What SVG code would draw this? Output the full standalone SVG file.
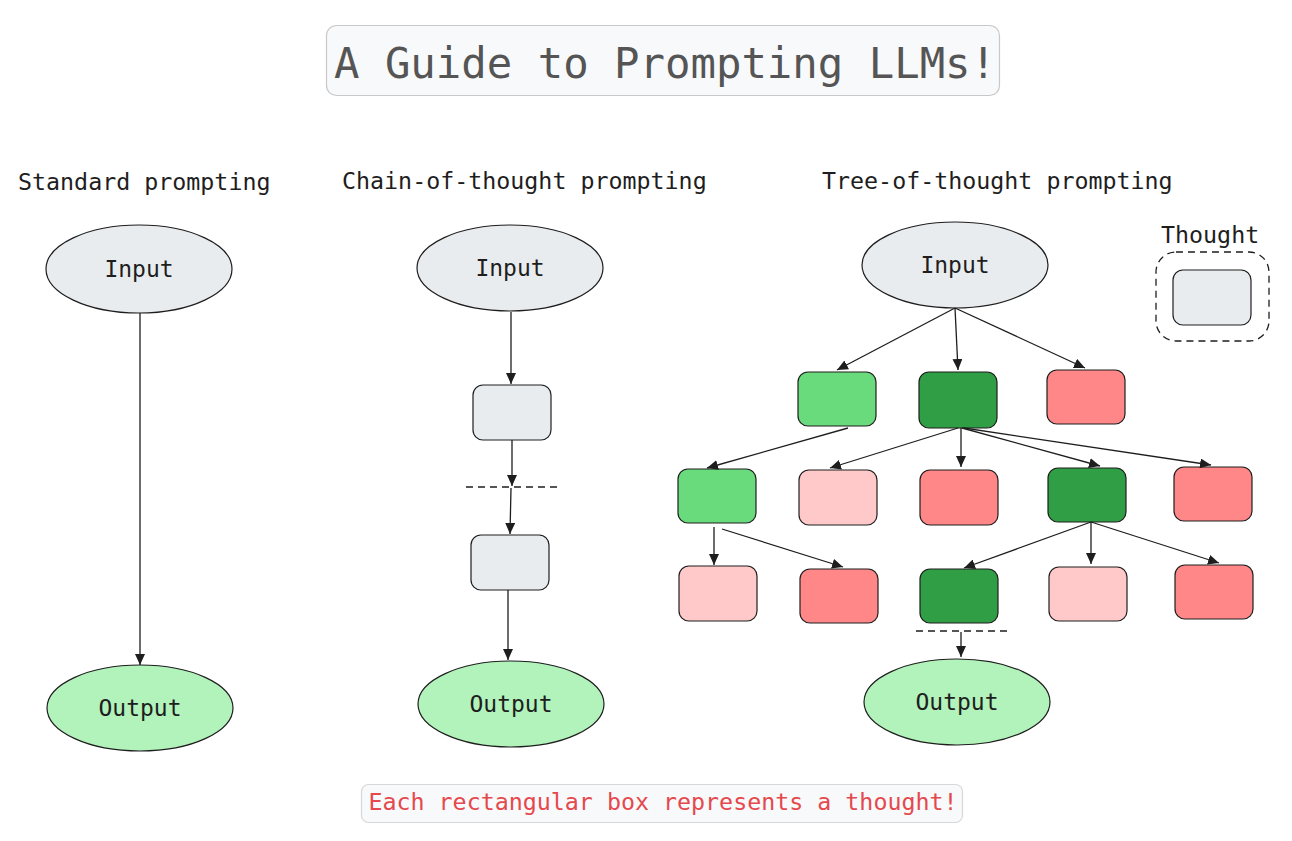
<svg xmlns="http://www.w3.org/2000/svg" width="1292" height="841" viewBox="0 0 1292 841">
<style>
  text { font-family: "DejaVu Sans Mono", "Liberation Mono", monospace; fill: #1e1e1e; }
  .hdr { font-size: 23.3px; }
  .lbl { font-size: 23px; text-anchor: middle; }
  .ell { stroke: #1e1e1e; stroke-width: 1.2; }
  .box { stroke: #1e1e1e; stroke-width: 1.2; }
  .gray { fill: #e9ecef; }
  .out { fill: #b2f2bb; }
  .lg { fill: #69db7c; }
  .dg { fill: #2f9e44; }
  .rd { fill: #ff8787; }
  .pk { fill: #ffc9c9; }
  .con line { stroke: #1e1e1e; stroke-width: 1.3; marker-end: url(#ah); }
  .dash { stroke: #1e1e1e; stroke-width: 1.3; stroke-dasharray: 7 5; fill: none; }
</style>
<defs>
  <marker id="ah" markerUnits="userSpaceOnUse" markerWidth="12" markerHeight="10" refX="11" refY="5" orient="auto">
    <path d="M0,0 L11,5 L0,10 Z" fill="#1e1e1e"/>
  </marker>
</defs>
<rect width="1292" height="841" fill="#ffffff"/>

<g id="title">
  <rect x="326.5" y="25.5" width="673" height="70" rx="10" fill="#f8f9fa" stroke="#c8c8c8" stroke-width="1.2"/>
  <text x="665" y="78" font-size="42.3" text-anchor="middle" style="fill:#555555">A Guide to Prompting LLMs!</text>
</g>

<g id="headers">
  <text class="hdr" x="18" y="190">Standard prompting</text>
  <text class="hdr" x="342" y="189">Chain-of-thought prompting</text>
  <text class="hdr" x="822" y="189">Tree-of-thought prompting</text>
</g>

<!-- Standard -->
<g id="std-input"><ellipse class="ell gray" cx="139" cy="269" rx="93" ry="44"/><text class="lbl" x="139" y="277">Input</text></g>
<g id="std-output"><ellipse class="ell out" cx="140" cy="708" rx="93" ry="43"/><text class="lbl" x="140" y="716">Output</text></g>

<!-- Chain -->
<g id="cot-input"><ellipse class="ell gray" cx="510" cy="268" rx="93" ry="43"/><text class="lbl" x="510" y="276">Input</text></g>
<g id="cot-t1"><rect class="box gray" x="473" y="385" width="78" height="55" rx="10"/></g>
<g id="cot-t2"><rect class="box gray" x="471" y="535" width="78" height="55" rx="10"/></g>
<g id="cot-output"><ellipse class="ell out" cx="511" cy="704" rx="93" ry="43"/><text class="lbl" x="511" y="712">Output</text></g>

<!-- Tree -->
<g id="tot-input"><ellipse class="ell gray" cx="955" cy="265" rx="93" ry="43"/><text class="lbl" x="955" y="273">Input</text></g>
<g id="r1a"><rect class="box lg" x="798" y="372" width="78" height="54" rx="10"/></g>
<g id="r1b"><rect class="box dg" x="919" y="372" width="78" height="56" rx="10"/></g>
<g id="r1c"><rect class="box rd" x="1047" y="370" width="78" height="54" rx="10"/></g>
<g id="r2a"><rect class="box lg" x="678" y="469" width="78" height="54" rx="10"/></g>
<g id="r2b"><rect class="box pk" x="799" y="470" width="78" height="55" rx="10"/></g>
<g id="r2c"><rect class="box rd" x="920" y="470" width="78" height="55" rx="10"/></g>
<g id="r2d"><rect class="box dg" x="1048" y="468" width="78" height="54" rx="10"/></g>
<g id="r2e"><rect class="box rd" x="1174" y="467" width="78" height="54" rx="10"/></g>
<g id="r3a"><rect class="box pk" x="679" y="566" width="78" height="55" rx="10"/></g>
<g id="r3b"><rect class="box rd" x="800" y="569" width="78" height="54" rx="10"/></g>
<g id="r3c"><rect class="box dg" x="920" y="569" width="78" height="54" rx="10"/></g>
<g id="r3d"><rect class="box pk" x="1049" y="567" width="78" height="54" rx="10"/></g>
<g id="r3e"><rect class="box rd" x="1175" y="565" width="78" height="54" rx="10"/></g>
<g id="tot-output"><ellipse class="ell out" cx="957" cy="702" rx="93" ry="43"/><text class="lbl" x="957" y="710">Output</text></g>

<!-- Legend -->
<g id="legend">
  <text class="hdr" x="1161" y="243">Thought</text>
  <rect class="dash" x="1156" y="252" width="113" height="89" rx="20"/>
  <rect class="box gray" x="1173" y="270" width="78" height="55" rx="10"/>
</g>

<g id="connectors" class="con">
  <line x1="140" y1="313" x2="140" y2="665"/>
  <line x1="511" y1="312" x2="511" y2="384"/>
  <line x1="512" y1="440" x2="512" y2="486"/>
  <line x1="511" y1="488" x2="510" y2="534"/>
  <line x1="508" y1="590" x2="508" y2="660"/>
  <line x1="955" y1="308" x2="837" y2="370"/>
  <line x1="955" y1="308" x2="958" y2="370"/>
  <line x1="955" y1="308" x2="1085" y2="368"/>
  <line x1="848" y1="428" x2="707" y2="468"/>
  <line x1="958" y1="428" x2="830" y2="468"/>
  <line x1="961" y1="428" x2="961" y2="467"/>
  <line x1="962" y1="428" x2="1100" y2="466"/>
  <line x1="964" y1="428" x2="1211" y2="465"/>
  <line x1="714" y1="527" x2="714" y2="565"/>
  <line x1="722" y1="529" x2="843" y2="567"/>
  <line x1="1091" y1="522" x2="964" y2="568"/>
  <line x1="1091" y1="522" x2="1091" y2="564"/>
  <line x1="1091" y1="522" x2="1219" y2="563"/>
  <line x1="961" y1="632" x2="961" y2="657"/>
</g>
<g id="separators">
  <line class="dash" x1="466" y1="487" x2="557" y2="487"/>
  <line class="dash" x1="916" y1="631" x2="1007" y2="631"/>
</g>

<g id="footer">
  <rect x="361.5" y="784.5" width="601" height="38" rx="7" fill="#f8f9fa" stroke="#d8d8d8" stroke-width="1.2"/>
  <text x="663" y="810" font-size="23.3" text-anchor="middle" style="fill:#e5484d">Each rectangular box represents a thought!</text>
</g>
</svg>
